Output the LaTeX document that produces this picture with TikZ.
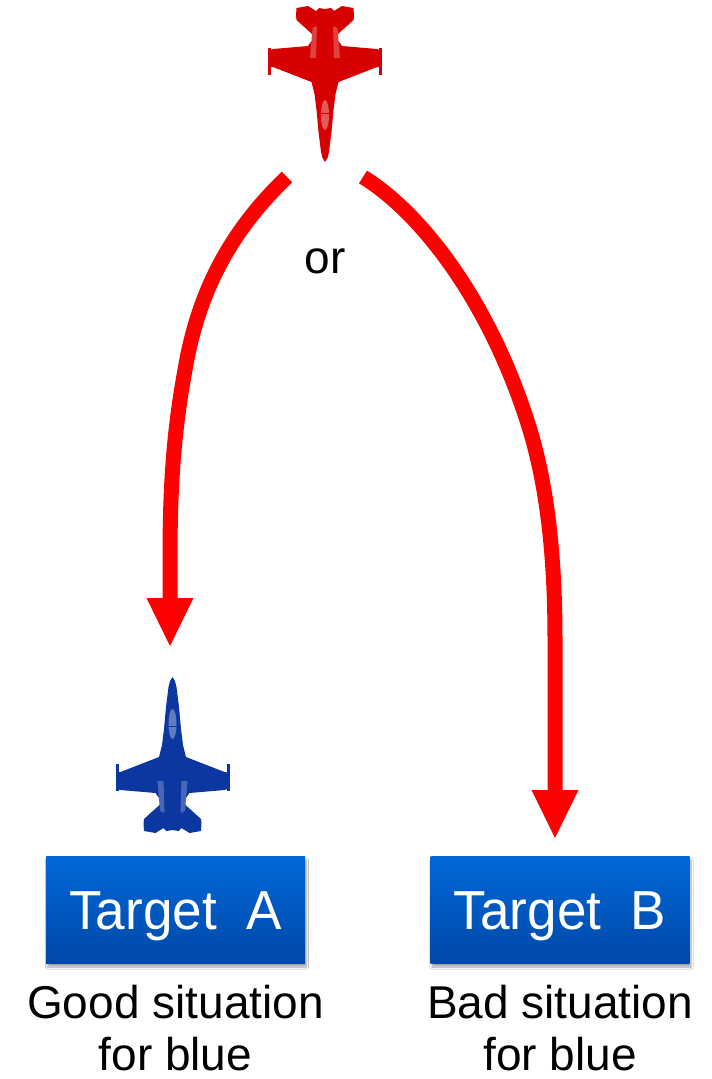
\documentclass[tikz,border=0pt]{standalone}
\usepackage{fontspec}
\setmainfont{Liberation Sans}
\usetikzlibrary{arrows.meta,shadows.blur}

\definecolor{jetred}{RGB}{214,0,0}
\definecolor{jetblue}{RGB}{12,54,160}
\definecolor{boxtop}{RGB}{0,104,216}
\definecolor{boxbottom}{RGB}{0,72,168}
\definecolor{arrowred}{RGB}{255,0,0}

\tikzset{
  % fighter seen from above, nose at the origin, tail towards +y
  jet/.pic={
    \fill[#1]
      (0,0) -- (2.5,4) -- (4,10) -- (5,18) -- (6.5,30) -- (8.5,52) -- (10.5,68)
      -- (13.5,80) -- (52,95) -- (54,95) -- (55,98) -- (55,112) -- (52,113)
      -- (17,116) -- (13.5,121) -- (13,128) -- (28.5,142) -- (29,146) -- (28.5,154)
      -- (17,156) -- (9,151) -- (6,154) -- (0,153)
      -- (-6,154) -- (-9,151) -- (-17,156) -- (-28.5,154) -- (-29,146) -- (-28.5,142)
      -- (-13,128) -- (-13.5,121) -- (-17,116) -- (-52,113) -- (-55,112) -- (-55,98)
      -- (-54,95) -- (-52,95) -- (-13.5,80) -- (-10.5,68) -- (-8.5,52) -- (-6.5,30)
      -- (-5,18) -- (-4,10) -- (-2.5,4) -- cycle;
    % wing-tip rails
    \fill[#1] (54,87) rectangle (57,114);
    \fill[#1] (-54,87) rectangle (-57,114);
    % canopy and canted fins
    \fill[white,opacity=0.35] (0,47) ellipse [x radius=4, y radius=15];
    \draw[#1,line width=0.8] (-4,49) -- (4,49);
    \fill[white,opacity=0.25] (-15,104) -- (-9,104) -- (-8,136) -- (-12.5,134) -- cycle;
    \fill[white,opacity=0.25] (15,104) -- (9,104) -- (8,136) -- (12.5,134) -- cycle;
  },
  route/.style={draw=arrowred, line width=15pt,
    -{Triangle[length=48pt, width=47pt, line width=0pt]}},
  targetbox/.style={minimum width=259pt, minimum height=107pt, inner sep=0pt,
    text height=39pt, text depth=0pt,
    top color=boxtop, bottom color=boxbottom, text=white,
    font=\fontsize{55}{60}\selectfont,
    blur shadow={shadow xshift=1.5pt, shadow yshift=-4pt,
      shadow blur steps=6, shadow opacity=35}},
  caption/.style={align=center, inner sep=0pt, anchor=north,
    font=\fontsize{46}{51.7}\selectfont},
}

\begin{document}
\begin{tikzpicture}[x=1pt, y=-1pt]
  \fill[white] (0,0) rectangle (712,1079);
  \useasboundingbox (0,0) rectangle (712,1079);

  % aircraft
  \pic[rotate=180] at (325,162) {jet=jetred};
  \pic at (172.5,677) {jet=jetblue};

  % labels and targets
  \node[font=\fontsize{46}{50}\selectfont, anchor=base, inner sep=0pt] (or) at (325,273) {or};
  \node[targetbox] (ta) at (175.5,909.5) {\scalebox{0.965}[1]{Target\ \ A}};
  \node[targetbox] (tb) at (560,909.5) {\scalebox{0.965}[1]{Target\ \ B}};
  \node[caption] (ca) at (175.5,985) {Good situation\\for blue};
  \node[caption] (cb) at (560,985) {Bad situation\\for blue};

  % route ends
  \coordinate (ls) at (287,177);
  \coordinate (lm) at (185,370);
  \coordinate (le) at (170,646);
  \coordinate (rs) at (363,177);
  \coordinate (rm) at (530,430);
  \coordinate (re) at (555,838);

  % two possible routes of the red fighter
  \path[route] (ls) .. controls (240,222) and (200,280) .. (lm)
    .. controls (172,440) and (170,500) .. (170,560) -- (le);
  \path[route] (rs) .. controls (420,212) and (490,300) .. (rm)
    .. controls (548,490) and (555,560) .. (555,640) -- (re);
\end{tikzpicture}
\end{document}
